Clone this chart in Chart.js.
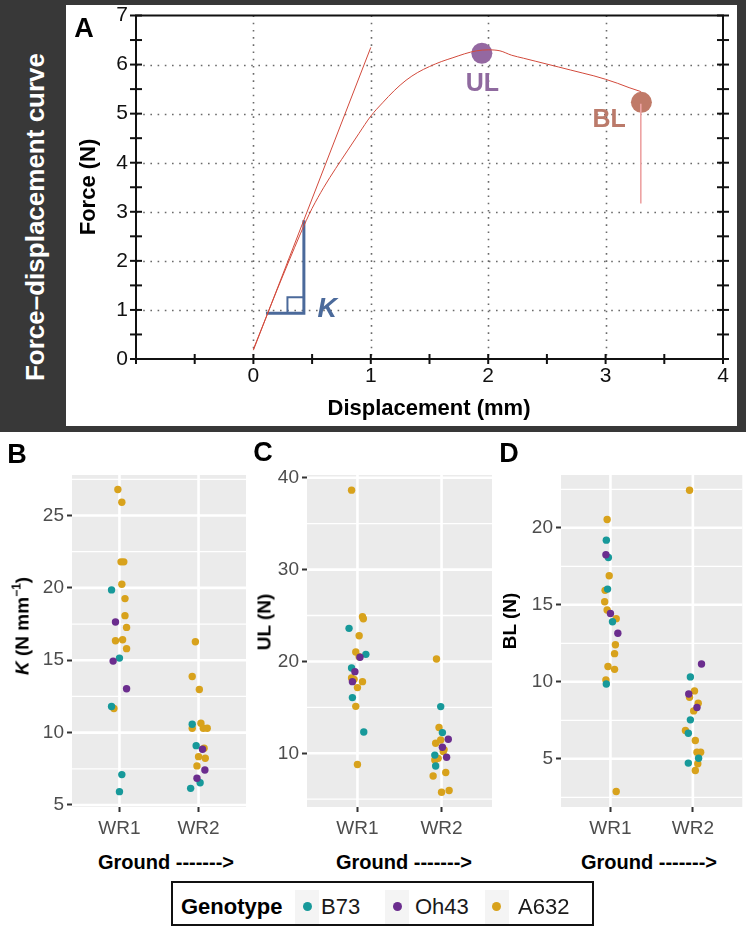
<!DOCTYPE html>
<html><head><meta charset="utf-8">
<script src="https://cdn.jsdelivr.net/npm/chart.js@4.4.0/dist/chart.umd.min.js"></script>
<style>
html,body{margin:0;padding:0;background:#fff;}
body{width:746px;height:930px;position:relative;overflow:hidden;font-family:"Liberation Sans",Arial,Helvetica,sans-serif;}
.abs{position:absolute;}
canvas{position:absolute;}
.rot{position:absolute;transform:translate(-50%,-50%) rotate(-90deg);white-space:nowrap;line-height:1;}
.ctr{position:absolute;transform:translate(-50%,-50%);white-space:nowrap;line-height:1;}
.lft{position:absolute;transform:translate(0,-50%);white-space:nowrap;line-height:1;}
</style></head><body>
<div class="abs" style="left:0;top:0;width:746px;height:432px;background:#383838"></div>
<div class="abs" style="left:66px;top:5px;width:671px;height:421px;background:#fff"></div>
<canvas id="cA" width="671" height="421" style="left:66px;top:5px;width:671px;height:421px"></canvas>
<canvas id="cB" width="250" height="420" style="left:0;top:430px;width:250px;height:420px"></canvas>
<canvas id="cC" width="246" height="420" style="left:250px;top:430px;width:246px;height:420px"></canvas>
<canvas id="cD" width="250" height="420" style="left:496px;top:430px;width:250px;height:420px"></canvas>

<div class="rot" style="left:35px;top:217px;color:#fff;font-weight:bold;font-size:26px;">Force–displacement curve</div>
<div class="ctr" style="left:84px;top:28px;font-weight:bold;font-size:27px;">A</div>
<div class="rot" style="left:88px;top:187px;font-weight:bold;font-size:22px;">Force (N)</div>
<div class="ctr" style="left:429px;top:408px;font-weight:bold;font-size:22px;">Displacement (mm)</div>

<div class="ctr" style="left:17px;top:454px;font-weight:bold;font-size:27px;">B</div>
<div class="ctr" style="left:263px;top:452px;font-weight:bold;font-size:27px;">C</div>
<div class="ctr" style="left:509px;top:453px;font-weight:bold;font-size:27px;">D</div>

<div class="rot" style="left:22px;top:626px;font-weight:bold;font-size:19px;"><i>K</i> (N mm<sup style="font-size:12px;vertical-align:baseline;position:relative;top:-8px;">−1</sup>)</div>
<div class="rot" style="left:264px;top:622px;font-weight:bold;font-size:19px;">UL (N)</div>
<div class="rot" style="left:509px;top:621px;font-weight:bold;font-size:19px;">BL (N)</div>

<div class="ctr" style="left:166px;top:862px;font-weight:bold;font-size:20px;">Ground -------&gt;</div>
<div class="ctr" style="left:404px;top:862px;font-weight:bold;font-size:20px;">Ground -------&gt;</div>
<div class="ctr" style="left:649px;top:862px;font-weight:bold;font-size:20px;">Ground -------&gt;</div>

<div id="legend" class="abs" style="left:171px;top:881px;width:419px;height:41px;border:2px solid #111;background:#fff;"></div>

<script>
// ---------- Panel A data ----------
const dispTicks = [0, 1, 2, 3, 4];
const forceTicks = [0, 1, 2, 3, 4, 5, 6, 7];
const curveDisp = [0,0.1,0.2,0.3,0.4,0.45,0.5,0.6,0.7,0.8,0.9,1.0,1.1,1.2,1.3,1.4,1.5,1.6,1.7,1.8,1.9,2.0,2.1,2.2,2.3,2.4,2.5,2.6,2.7,2.8,2.9,3.0,3.1,3.2,3.3];
const curveForce = [0.2,0.8,1.4,1.98,2.55,2.82,3.07,3.5,3.88,4.24,4.6,4.95,5.22,5.47,5.68,5.84,5.96,6.06,6.14,6.22,6.28,6.3,6.28,6.19,6.13,6.07,6.01,5.95,5.89,5.83,5.77,5.7,5.62,5.53,5.45];
const tangentDisp = [0, 1.0];
const tangentForce = [0.18, 6.35];
const dropDisp = [3.30, 3.30];
const dropForce = [5.2, 3.17];
const kPathDisp = [0.107, 0.43, 0.43];
const kPathForce = [0.93, 0.93, 2.83];
const kSquareDisp = [0.29, 0.29, 0.43];
const kSquareForce = [0.93, 1.26, 1.26];
const ulPoint = [1.946, 6.23];
const blPoint = [3.305, 5.23];

// ---------- Panels B-D data ----------
const categories = ['WR1', 'WR2'];
const genotypes = ['B73', 'Oh43', 'A632'];

// B: stiffness K (N mm-1)
const kB73WR1 = [19.86, 15.15, 11.80, 7.10, 5.92];
const kB73WR1Jit = [-0.10, 0.00, -0.10, 0.03, 0.00];
const kOh43WR1 = [17.64, 14.94, 13.03];
const kOh43WR1Jit = [-0.05, -0.08, 0.09];
const kA632WR1 = [26.80, 25.92, 21.80, 21.80, 20.25, 19.26, 18.08, 17.27, 16.35, 16.42, 15.80, 11.67];
const kA632WR1Jit = [-0.02, 0.03, 0.02, 0.055, 0.03, 0.07, 0.07, 0.09, -0.05, 0.04, 0.09, -0.07];
const kB73WR2 = [10.58, 9.10, 6.54, 6.15];
const kB73WR2Jit = [-0.08, -0.03, 0.02, -0.10];
const kOh43WR2 = [8.85, 7.42, 6.85];
const kOh43WR2Jit = [0.05, 0.08, -0.02];
const kA632WR2 = [16.28, 13.88, 12.98, 10.30, 10.65, 10.30, 10.30, 8.92, 8.34, 8.23, 7.70];
const kA632WR2Jit = [-0.04, -0.08, 0.01, -0.08, 0.03, 0.06, 0.11, 0.07, 0.00, 0.085, -0.02];

// C: ultimate load UL (N)
const ulB73WR1 = [23.60, 20.77, 19.29, 16.06, 12.32];
const ulB73WR1Jit = [-0.10, 0.10, -0.07, -0.06, 0.075];
const ulOh43WR1 = [20.45, 18.89, 17.80];
const ulOh43WR1Jit = [0.03, -0.03, -0.06];
const ulA632WR1 = [38.65, 24.87, 24.65, 22.80, 21.03, 20.52, 18.20, 18.05, 17.80, 17.15, 15.11, 8.77];
const ulA632WR1Jit = [-0.07, 0.06, 0.07, 0.02, -0.02, 0.02, -0.07, -0.04, 0.06, 0.00, -0.02, 0.00];
const ulB73WR2 = [15.08, 12.25, 9.80, 8.62];
const ulB73WR2Jit = [-0.01, 0.01, -0.08, -0.07];
const ulOh43WR2 = [11.52, 10.65, 9.56];
const ulOh43WR2Jit = [0.08, 0.01, 0.06];
const ulA632WR2 = [20.26, 12.80, 11.45, 11.09, 10.40, 10.20, 9.45, 9.27, 7.90, 7.53, 5.76, 5.94];
const ulA632WR2Jit = [-0.06, -0.03, -0.01, -0.07, 0.03, 0.02, -0.04, -0.08, 0.05, -0.10, 0.00, 0.09];

// D: breaking load BL (N)
const blB73WR1 = [19.20, 18.07, 16.02, 13.90, 9.86];
const blB73WR1Jit = [-0.05, -0.025, -0.035, 0.025, -0.05];
const blOh43WR1 = [18.25, 14.44, 13.15];
const blOh43WR1Jit = [-0.055, 0.00, 0.09];
const blA632WR1 = [20.54, 16.89, 15.94, 15.20, 14.66, 14.10, 12.41, 11.83, 10.99, 10.81, 10.12, 2.88];
const blA632WR1Jit = [-0.04, -0.015, -0.065, -0.07, -0.04, 0.07, 0.06, 0.05, -0.03, 0.05, -0.055, 0.07];
const blB73WR2 = [10.32, 7.53, 6.66, 5.04, 4.72];
const blB73WR2Jit = [-0.03, -0.03, -0.055, 0.07, -0.055];
const blOh43WR2 = [11.16, 9.21, 8.33];
const blOh43WR2Jit = [0.105, -0.05, 0.05];
const blA632WR2 = [22.44, 9.41, 9.00, 8.61, 8.11, 6.84, 6.19, 5.43, 5.43, 4.68, 4.24];
const blA632WR2Jit = [-0.04, 0.02, -0.04, 0.065, 0.01, -0.09, 0.03, 0.05, 0.095, 0.06, 0.03];

// axis ticks
const kTicks = [5, 10, 15, 20, 25];
const kMinor = [7.5, 12.5, 17.5, 22.5, 27.5];
const ulTicks = [10, 20, 30, 40];
const ulMinor = [5, 15, 25, 35];
const blTicks = [5, 10, 15, 20];
const blMinor = [2.5, 7.5, 12.5, 17.5, 22.5];

// ---------- styles ----------
const FF = 'Liberation Sans';
const genoColors = ['#17999a', '#6b2d8e', '#d8a21c'];

function zeroPad(s){ s.paddingTop = 0; s.paddingBottom = 0; s.paddingLeft = 0; s.paddingRight = 0; }
function xy(xs, ys){ return xs.map((x, i) => ({x: x, y: ys[i]})); }
function pts(v1, j1, v2, j2){
  return v1.map((v, i) => ({x: 1 + j1[i], y: v})).concat(v2.map((v, i) => ({x: 2 + j2[i], y: v})));
}

// ---------- Panel A ----------
const frameA = {
  id: 'frameA',
  beforeDatasetsDraw(chart){
    const {ctx, chartArea: a, scales: {x, y}} = chart;
    ctx.save();
    ctx.strokeStyle = '#6a6a6a'; ctx.lineWidth = 1.6; ctx.setLineDash([1.6, 5.6]);
    [0, 1, 2, 3].forEach(v => { const p = Math.round(x.getPixelForValue(v)) + 0.5; ctx.beginPath(); ctx.moveTo(p, a.top); ctx.lineTo(p, a.bottom); ctx.stroke(); });
    [1, 2, 3, 4, 5, 6].forEach(v => { const p = Math.round(y.getPixelForValue(v)) + 0.5; ctx.beginPath(); ctx.moveTo(a.left, p); ctx.lineTo(a.right, p); ctx.stroke(); });
    ctx.setLineDash([]);
    ctx.strokeStyle = '#111'; ctx.lineWidth = 2;
    ctx.strokeRect(a.left, a.top, a.right - a.left, a.bottom - a.top);
    for (let v = 0; v <= 7.001; v += 0.5){
      const p = y.getPixelForValue(v);
      ctx.beginPath(); ctx.moveTo(a.left - 6, p); ctx.lineTo(a.left + 6, p); ctx.stroke();
      ctx.beginPath(); ctx.moveTo(a.right - 6, p); ctx.lineTo(a.right + 6, p); ctx.stroke();
    }
    for (let v = -1; v <= 4.001; v += 0.5){
      const p = x.getPixelForValue(v);
      ctx.beginPath(); ctx.moveTo(p, a.bottom - 5); ctx.lineTo(p, a.bottom + 5); ctx.stroke();
    }
    ctx.restore();
  },
  afterDatasetsDraw(chart){
    const {ctx, scales: {x, y}} = chart;
    ctx.save();
    ctx.textAlign = 'center'; ctx.textBaseline = 'middle';
    ctx.font = 'bold 25px "' + FF + '"';
    ctx.fillStyle = '#8f6a9f';
    ctx.fillText('UL', x.getPixelForValue(1.95), y.getPixelForValue(5.6));
    ctx.fillStyle = '#bb7a6a';
    ctx.fillText('BL', x.getPixelForValue(3.03), y.getPixelForValue(4.87));
    ctx.font = 'italic bold 27px "' + FF + '"';
    ctx.fillStyle = '#4b6a9b';
    ctx.fillText('K', x.getPixelForValue(0.63), y.getPixelForValue(1.0));
    ctx.restore();
  }
};

new Chart(document.getElementById('cA'), {
  type: 'scatter',
  data: { datasets: [
    {data: xy(tangentDisp, tangentForce), showLine: true, borderColor: '#d24a3c', borderWidth: 1, pointRadius: 0},
    {data: xy(curveDisp, curveForce), showLine: true, borderColor: '#d24a3c', borderWidth: 1, pointRadius: 0, cubicInterpolationMode: 'monotone'},
    {data: xy(dropDisp, dropForce), showLine: true, borderColor: '#eda3a3', borderWidth: 1.6, pointRadius: 0},
    {data: xy(kPathDisp, kPathForce), showLine: true, borderColor: '#4b6a9b', borderWidth: 3, pointRadius: 0, borderJoinStyle: 'miter'},
    {data: xy(kSquareDisp, kSquareForce), showLine: true, borderColor: '#4b6a9b', borderWidth: 2, pointRadius: 0, borderJoinStyle: 'miter'},
    {data: [{x: ulPoint[0], y: ulPoint[1]}], backgroundColor: '#9468a1', borderWidth: 0, pointRadius: 10.5},
    {data: [{x: blPoint[0], y: blPoint[1]}], backgroundColor: '#c07a68', borderWidth: 0, pointRadius: 10.5}
  ]},
  options: {
    responsive: false, animation: false, devicePixelRatio: 1,
    layout: {padding: {left: 0, top: 10, right: 14, bottom: 0}},
    plugins: {legend: {display: false}, tooltip: {enabled: false}},
    scales: {
      x: {type: 'linear', min: -1, max: 4,
          afterBuildTicks: s => { s.ticks = dispTicks.map(v => ({value: v})); },
          afterFit: s => { s.height = 67; zeroPad(s); },
          ticks: {color: '#111', font: {family: FF, size: 21}, padding: 5, maxRotation: 0, minRotation: 0, autoSkip: false},
          grid: {display: false, drawTicks: false}, border: {display: false}},
      y: {type: 'linear', min: 0, max: 7,
          afterBuildTicks: s => { s.ticks = forceTicks.map(v => ({value: v})); },
          afterFit: s => { s.width = 70; zeroPad(s); },
          ticks: {color: '#111', font: {family: FF, size: 21}, padding: 8},
          grid: {display: false, drawTicks: false}, border: {display: false}}
    }
  },
  plugins: [frameA]
});

// ---------- Panels B-D ----------
const ggPanel = {
  id: 'ggPanel',
  beforeDatasetsDraw(chart, args, opts){
    const {ctx, chartArea: a, scales: {x, y}} = chart;
    ctx.save();
    ctx.fillStyle = '#ebebeb';
    ctx.fillRect(a.left, a.top, a.right - a.left, a.bottom - a.top);
    ctx.strokeStyle = '#ffffff';
    ctx.lineWidth = 1.3;
    opts.minor.forEach(v => { const p = y.getPixelForValue(v); if (p >= a.top - 1 && p <= a.bottom + 1){ ctx.beginPath(); ctx.moveTo(a.left, p); ctx.lineTo(a.right, p); ctx.stroke(); } });
    ctx.lineWidth = 2.6;
    opts.major.forEach(v => { const p = y.getPixelForValue(v); ctx.beginPath(); ctx.moveTo(a.left, p); ctx.lineTo(a.right, p); ctx.stroke(); });
    categories.forEach((c, i) => { const p = x.getPixelForValue(i + 1); ctx.beginPath(); ctx.moveTo(p, a.top); ctx.lineTo(p, a.bottom); ctx.stroke(); });
    ctx.restore();
  }
};

function makePanel(id, w, h, area, yRange, major, minor, series){
  // series: [genotypeIndex, points] in drawing order
  new Chart(document.getElementById(id), {
    type: 'scatter',
    data: { datasets: series.map(s => ({
      label: genotypes[s[0]], data: s[1], backgroundColor: genoColors[s[0]],
      borderWidth: 0, pointRadius: 3.7, pointHoverRadius: 3.7
    })) },
    options: {
      responsive: false, animation: false, devicePixelRatio: 1,
      layout: {padding: {left: 0, top: area.top, right: w - area.right, bottom: 0}},
      plugins: {legend: {display: false}, tooltip: {enabled: false}, ggPanel: {major: major, minor: minor}},
      scales: {
        x: {type: 'linear', min: 0.4, max: 2.6,
            afterBuildTicks: s => { s.ticks = categories.map((c, i) => ({value: i + 1})); },
            afterFit: s => { s.height = h - area.bottom; zeroPad(s); },
            ticks: {callback: v => categories[Math.round(v) - 1], color: '#4d4d4d', font: {family: FF, size: 19}, padding: 5, maxRotation: 0, minRotation: 0, autoSkip: false},
            grid: {display: true, drawOnChartArea: false, drawTicks: true, tickLength: 5, tickWidth: 2, tickColor: '#333'},
            border: {display: false}},
        y: {type: 'linear', min: yRange[0], max: yRange[1],
            afterBuildTicks: s => { s.ticks = major.map(v => ({value: v})); },
            afterFit: s => { s.width = area.left; zeroPad(s); },
            ticks: {color: '#4d4d4d', font: {family: FF, size: 19}, padding: 3},
            grid: {display: true, drawOnChartArea: false, drawTicks: true, tickLength: 5, tickWidth: 2, tickColor: '#333'},
            border: {display: false}}
      }
    },
    plugins: [ggPanel]
  });
}

makePanel('cB', 250, 420, {left: 72, top: 45, right: 246, bottom: 377}, [4.86, 27.8], kTicks, kMinor, [
  [1, pts(kOh43WR1, kOh43WR1Jit, kOh43WR2, kOh43WR2Jit)],
  [0, pts(kB73WR1, kB73WR1Jit, kB73WR2, kB73WR2Jit)],
  [2, pts(kA632WR1, kA632WR1Jit, kA632WR2, kA632WR2Jit)]
]);
makePanel('cC', 246, 420, {left: 57, top: 45, right: 242, bottom: 377}, [4.15, 40.3], ulTicks, ulMinor, [
  [1, pts(ulOh43WR1, ulOh43WR1Jit, ulOh43WR2, ulOh43WR2Jit)],
  [0, pts(ulB73WR1, ulB73WR1Jit, ulB73WR2, ulB73WR2Jit)],
  [2, pts(ulA632WR1, ulA632WR1Jit, ulA632WR2, ulA632WR2Jit)]
]);
makePanel('cD', 250, 420, {left: 65, top: 45, right: 248, bottom: 377}, [1.87, 23.43], blTicks, blMinor, [
  [1, pts(blOh43WR1, blOh43WR1Jit, blOh43WR2, blOh43WR2Jit)],
  [0, pts(blB73WR1, blB73WR1Jit, blB73WR2, blB73WR2Jit)],
  [2, pts(blA632WR1, blA632WR1Jit, blA632WR2, blA632WR2Jit)]
]);

// ---------- Legend ----------
(function(){
  const lg = document.getElementById('legend');
  const oy = 906.5 - 883; // centre line inside the box
  let html = '<div class="lft" style="left:8px;top:' + oy + 'px;font-weight:bold;font-size:22px;">Genotype</div>';
  const dotX = [134, 224, 323.5];
  const labX = [148, 242, 345];
  genotypes.forEach((g, i) => {
    html += '<div class="abs" style="left:' + (dotX[i] - 12) + 'px;top:' + (oy - 17) + 'px;width:24px;height:34px;background:#f4f4f4;"></div>';
    html += '<div class="abs" style="left:' + (dotX[i] - 4.5) + 'px;top:' + (oy - 4.5) + 'px;width:9px;height:9px;border-radius:50%;background:' + genoColors[i] + ';"></div>';
    html += '<div class="lft" style="left:' + labX[i] + 'px;top:' + oy + 'px;font-size:22px;color:#1a1a1a;">' + g + '</div>';
  });
  lg.innerHTML = html;
})();
</script>
</body></html>
